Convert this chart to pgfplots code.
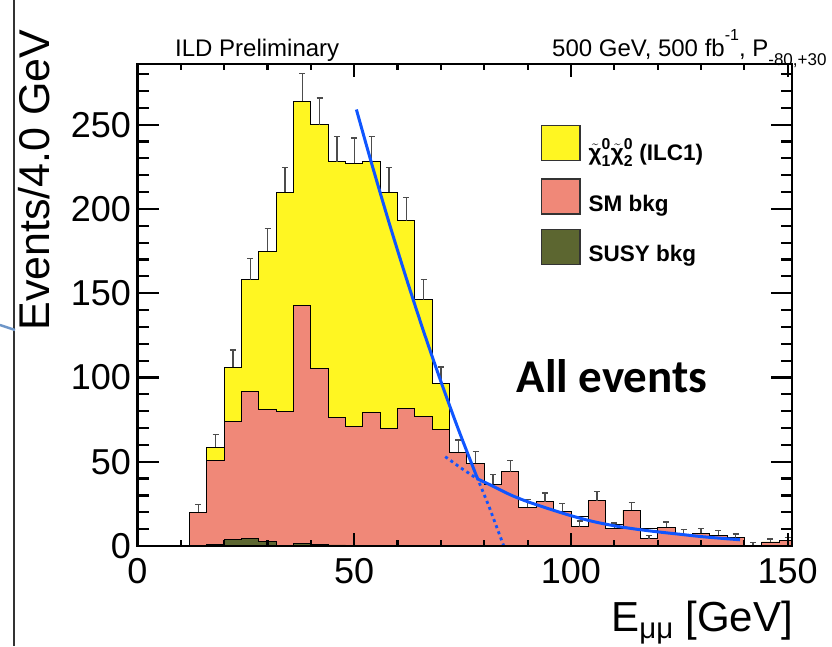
\documentclass[border=0pt]{standalone}
\usepackage{amsmath}
\usepackage{pgfplots}
\pgfplotsset{compat=1.18}
\usepackage{pgfplotstable}
\usepackage{fontspec}
\setmainfont{Liberation Sans}
\newfontfamily\carlito{Carlito}
\definecolor{sigyellow}{RGB}{255,246,34}
\definecolor{smred}{RGB}{240,136,120}
\definecolor{susyolive}{RGB}{92,102,48}
\definecolor{fitblue}{RGB}{15,85,255}

% bin left edge, yellow top, white-box top, SM top, SUSY top
\pgfplotstableread{
x tot wh red ol
12 20 0 20 0
16 58.5 0 51 0.8
20 106 0 74 3.8
24 158 0 91.5 4.3
28 175 0 81 2.8
32 210 0 80 0.4
36 264 0 143 1.6
40 250 0 105.5 0.8
44 228 0 76 0.6
48 227 0 71 0
52 228 0 79 0
56 210 0 70 0
60 193 0 81.5 0
64 146 0 77 0
68 96.5 0 69 0
72 55.5 0 55.5 0
76 49 0 49 0
80 36.6 0 36.6 0
84 44 0 44 0
88 23 0 23 0
92 26.3 0 26.3 0
96 20.6 0 20.6 0
100 11.5 17.4 11.5 0
104 27 0 27 0
108 10.5 13 10.5 0
112 21.3 0 21.3 0
116 4.2 10.5 4.2 0
120 11 0 11 0
124 7 0 7 0
128 7.5 0 7.5 0
132 6.5 0 6.5 0
136 5 0 5 0
140 0.4 0 0.4 0
144 2.4 0 2.4 0
148 3 0 3 0
152 3 0 3 0
}\hist

% bin centre, level, upper error
\pgfplotstableread{
x y e
14 20 4.5
18 58.5 7.6
22 106 10.3
26 158 12.6
30 175 13.2
34 210 14.5
38 264 16.2
42 250 15.8
46 228 15.1
50 227 15.1
54 228 15.1
58 210 14.5
62 193 13.9
66 146 12.1
70 96.5 9.8
74 55.5 7.4
78 49 7.0
82 36.6 6.0
86 44 6.6
90 23 4.8
94 26.3 5.1
98 20.6 4.5
102 11.5 3.4
106 27 5.2
110 10.5 3.2
114 21.3 4.6
118 4.2 2.0
122 11 3.3
126 7 2.6
130 7.5 2.7
134 6.5 2.5
138 5 2.2
142 0.4 1.6
146 2.4 1.8
150 3 2.0
}\errs

\begin{document}
\begin{tikzpicture}
\begin{axis}[
  name=ax,
  at={(137.5pt,100pt)}, anchor=south west,
  scale only axis, width=654.5pt, height=482pt,
  xmin=0, xmax=151, ymin=0, ymax=286,
  xtick={0,50,100,150}, ytick={0,50,100,150,200,250},
  major tick length=0pt, minor tick length=0pt,
  /pgf/number format/assume math mode=true,
  tick label style={font=\fontsize{36}{40}\selectfont},
  xticklabel style={yshift=-9pt},
  yticklabel style={xshift=-3pt},
  xlabel={E\textsubscript{μμ} [GeV]},
  xlabel style={at={(axis description cs:1,-0.178)}, anchor=base east, inner sep=0pt, xshift=1pt, font=\fontsize{42}{46}\selectfont},
  ylabel={Events/4.0 GeV},
  ylabel style={at={(axis description cs:-0.1337,1.072)}, anchor=base east, inner sep=0pt, font=\fontsize{43}{46}\selectfont},
  legend style={at={(axis cs:93,250)}, anchor=north west, draw=none, fill=none,
    font=\fontsize{22.5}{26}\selectfont\bfseries, row sep=14pt, column sep=6pt, inner sep=0pt,
    legend cell align=left},
  legend image code/.code={\draw[#1] (0pt,-10pt) rectangle (38.6pt,25pt);},
]
\addlegendimage{fill=sigyellow, draw=black!80, line width=1.2pt}
\addlegendentry{$\tilde{\text{χ}}^{\text{0}}_{\text{1}}\tilde{\text{χ}}^{\text{0}}_{\text{2}}$ (ILC1)}
\addlegendimage{fill=smred, draw=black!80, line width=1.2pt}
\addlegendentry{SM bkg}
\addlegendimage{fill=susyolive, draw=black!80, line width=1.2pt}
\addlegendentry{SUSY bkg}

\addplot[const plot, fill=sigyellow, draw=black, line width=0.9pt, forget plot] table[x=x,y=tot]{\hist} \closedcycle;
\addplot[const plot, fill=white, draw=black, line width=0.9pt, forget plot] table[x=x,y=wh]{\hist} \closedcycle;
\addplot[const plot, fill=smred, draw=black, line width=0.9pt, forget plot] table[x=x,y=red]{\hist} \closedcycle;
\addplot[const plot, fill=susyolive, draw=black, line width=0.9pt, forget plot] table[x=x,y=ol]{\hist} \closedcycle;

\addplot[draw=none, mark=none, forget plot,
  error bars/.cd, y dir=plus, y explicit,
  error bar style={draw=black!70, line width=1.3pt},
  error mark=-, error mark options={rotate=90, draw=black!70, line width=1.3pt, mark size=3pt}]
  table[x=x, y=y, y error=e]{\errs};

% fit curves
\addplot[fitblue, line width=3pt, smooth, forget plot] coordinates {
(50.5,259) (54,227.1) (58,192.2) (62,159.0) (66,127.4) (70,97.6) (74,69.4) (78,42.9) (78.3,41)};
\addplot[fitblue, line width=2.8pt, dash pattern=on 3pt off 3.5pt, forget plot] coordinates {
(78.3,41) (81,24.1) (84.5,0)};
\addplot[fitblue, line width=3pt, smooth, forget plot] coordinates {
(78.3,40) (82,35.5) (86,30.4) (90,26.3) (95,22) (100,18) (105,14.6) (110,12) (115,10) (120,8.4) (125,7) (130,5.6) (135,4.5) (139,3.7)};
\addplot[fitblue, line width=2.8pt, dash pattern=on 3pt off 3.5pt, forget plot] coordinates {
(71,53) (74.5,46.5) (78.3,40)};

% axis ticks (ROOT style, inside, on all four sides)
\pgfplotsinvokeforeach{0,50,100,150}{
  \draw[black, line width=2.2pt] (axis cs:#1,0) -- ++(0pt,13pt);
  \draw[black, line width=2.2pt] (axis cs:#1,286) -- ++(0pt,-13pt);
}
\pgfplotsinvokeforeach{10,20,30,40,60,70,80,90,110,120,130,140}{
  \draw[black, line width=2.2pt] (axis cs:#1,0) -- ++(0pt,6.5pt);
  \draw[black, line width=2.2pt] (axis cs:#1,286) -- ++(0pt,-6.5pt);
}
\pgfplotsinvokeforeach{0,50,100,150,200,250}{
  \draw[black, line width=2.2pt] (axis cs:0,#1) -- ++(21pt,0pt);
  \draw[black, line width=2.2pt] (axis cs:151,#1) -- ++(-21pt,0pt);
}
\pgfplotsinvokeforeach{10,20,30,40,60,70,80,90,110,120,130,140,160,170,180,190,210,220,230,240,260,270,280}{
  \draw[black, line width=2.2pt] (axis cs:0,#1) -- ++(11pt,0pt);
  \draw[black, line width=2.2pt] (axis cs:151,#1) -- ++(-11pt,0pt);
}
\end{axis}
\draw[line width=2.5pt, black] (ax.south west) rectangle (ax.north east);

\node[anchor=base, font=\carlito\bfseries\fontsize{47}{50}\selectfont, inner sep=0pt] at (612pt,254pt) {All events};
\node[anchor=base west, font=\fontsize{24}{28}\selectfont, inner sep=0pt] at (175pt,589pt) {ILD Preliminary};
\node[anchor=base west, font=\fontsize{24}{28}\selectfont, inner sep=0pt] at (552pt,589pt)
  {500 GeV, 500 fb\raisebox{1.3ex}{\fontsize{16}{16}\selectfont -1}, P\raisebox{-0.65ex}{\fontsize{17}{17}\selectfont -80,+30}};

\draw[line width=1.2pt, black!80] (14pt,0pt) -- (14pt,646pt);
\draw[line width=2.5pt, color={rgb,255:red,110;green,150;blue,200}] (0pt,321pt) -- (15pt,316pt);

\pgfresetboundingbox
\path[use as bounding box] (0pt,0pt) rectangle (832pt,646pt);
\end{tikzpicture}
\end{document}
